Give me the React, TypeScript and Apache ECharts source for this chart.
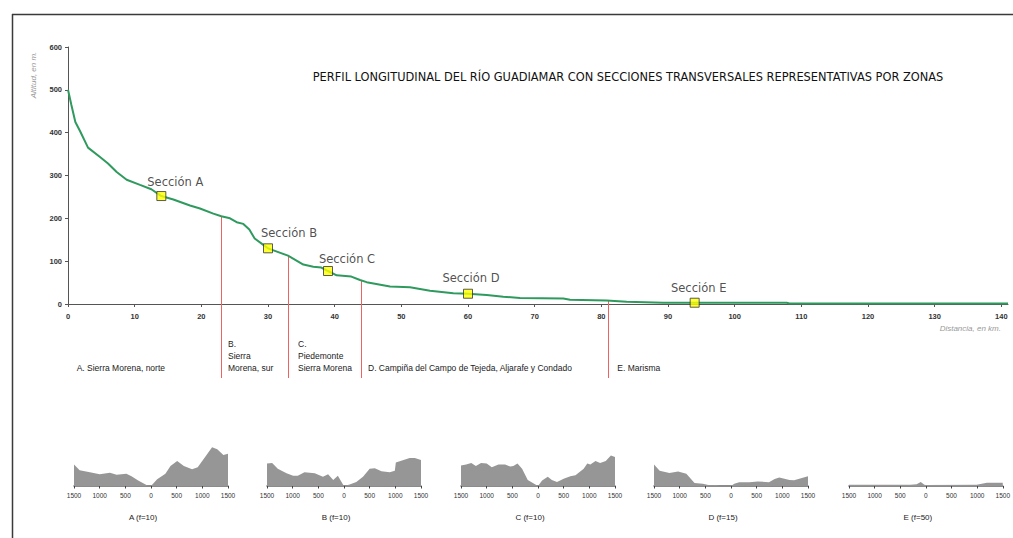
import React, { useEffect, useRef } from "react";
import * as echarts from "echarts";

// Longitudinal profile of the river: distance (km) and altitude (m)
const profileKm = [
  0, 0.5, 1.1, 1.8, 3, 4.8, 6, 7.3, 8.8, 10.8, 12.5, 14, 15.8, 18.3, 19.8, 21.8,
  23, 24.3, 25.3, 26.3, 27.2, 28, 29.3, 30, 33, 35.3, 36.8, 38, 39, 40.3, 42.5,
  43.8, 44.8, 48.3, 51.3, 54.3, 57.8, 60, 62.8, 65.3, 67.8, 74.3, 75.3, 80.8,
  83.8, 89.3, 90.3, 94, 107.8, 108.2, 141,
];
const profileAlt = [
  500, 465, 425, 404, 365, 343, 328, 308, 290, 278, 268, 252, 244, 230, 223, 211,
  205, 200, 191, 187, 174, 153, 138, 130, 113, 92, 87, 85, 77, 67, 64,
  56, 51, 41, 39, 31, 25, 24, 21, 17, 14, 13, 10, 8,
  5, 3, 3, 3, 3, 1, 1,
];

// Representative cross sections along the profile
const sectionNames = ["Sección A", "Sección B", "Sección C", "Sección D", "Sección E"];
const sectionKm = [14, 30, 39, 60, 94];
const sectionAlt = [252, 130, 77, 24, 3];

// Zone boundaries (km) and the profile altitude where each one starts
const boundaryKm = [23, 33, 44, 81];
const boundaryAlt = [205, 114, 56, 9];

// Zone names and the distance where each name starts
const zoneNames = [
  "A. Sierra Morena, norte",
  "B.\nSierra\nMorena, sur",
  "C.\nPiedemonte\nSierra Morena",
  "D. Campiña del Campo de Tejeda, Aljarafe y Condado",
  "E. Marisma",
];
const zoneKm = [1.3, 24, 34.5, 45, 82.4];

// Axis ticks
const xTicks = [0, 10, 20, 30, 40, 50, 60, 70, 80, 90, 100, 110, 120, 130, 140];
const yTicks = [0, 100, 200, 300, 400, 500, 600];

// Cross sections: offset from the channel (m) and relative height (m)
const crossTitles = ["A (f=10)", "B (f=10)", "C (f=10)", "D (f=15)", "E (f=50)"];
const crossExaggeration = [10, 10, 10, 15, 50];
const crossA: [number, number][] = [
  [-1500, 42], [-1390, 31], [-1190, 27], [-1000, 23], [-800, 26], [-670, 22],
  [-480, 24], [-380, 19], [-250, 11], [-70, 1], [0, 0], [120, 13], [280, 24],
  [380, 39], [510, 49], [640, 39], [800, 33], [910, 37], [1040, 55], [1190, 76],
  [1290, 72], [1410, 61], [1500, 63],
];
const crossB: [number, number][] = [
  [-1500, 44], [-1400, 45], [-1290, 34], [-1120, 25], [-990, 20], [-900, 20],
  [-770, 27], [-570, 25], [-410, 18], [-310, 23], [-210, 12], [-120, 20],
  [-20, 3], [0, 0], [110, 3], [240, 8], [370, 18], [500, 34], [600, 35],
  [730, 29], [890, 27], [990, 30], [1010, 46], [1280, 55], [1380, 55], [1500, 51],
];
const crossC: [number, number][] = [
  [-1500, 40], [-1400, 42], [-1300, 45], [-1210, 39], [-1110, 45], [-1000, 44],
  [-900, 37], [-770, 42], [-640, 42], [-540, 38], [-480, 39], [-400, 44],
  [-310, 34], [-200, 12], [-50, 3], [0, 0], [80, 11], [190, 18], [270, 12],
  [370, 8], [500, 14], [630, 19], [730, 21], [890, 34], [960, 44], [1020, 42],
  [1120, 49], [1210, 45], [1320, 49], [1420, 60], [1500, 57],
];
const crossD: [number, number][] = [
  [-1500, 28], [-1390, 20], [-1200, 17], [-1030, 19], [-870, 16], [-710, 4],
  [-550, 3], [-420, 1], [-290, 1.3], [-230, 0], [0, 0], [65, 3], [160, 5],
  [360, 5], [520, 6], [740, 5], [850, 9], [940, 11], [1140, 8], [1230, 7.4],
  [1330, 9.5], [1500, 12.6],
];
const crossE: [number, number][] = [
  [-1500, 0.5], [-300, 0.5], [-180, 0.7], [-100, 1.6], [-30, 0.5], [0, 0.4],
  [990, 0.5], [1090, 0.9], [1190, 1.3], [1500, 1.3],
];
const crossData = [crossA, crossB, crossC, crossD, crossE];

// Layout of the small cross-section panels
const crossLeft = [74, 267, 461, 654, 849];
const crossWidth = 154;
const crossTop = 435;
const crossHeight = 51;

const labelOffsets: [number, number][] = [
  [14, 1.5], [21, 0.5], [19, 3.5], [3, 0.5], [4, 1.5],
];

export default function App() {
  const ref = useRef<HTMLDivElement>(null);

  useEffect(() => {
    if (!ref.current) return;
    const chart = echarts.init(ref.current, null, { renderer: "svg" });

    const tickFont = {
      fontFamily: "Liberation Sans",
      fontSize: 7.5,
      fontWeight: "bold" as const,
      color: "#333",
    };

    const grids: any[] = [{ left: 68, top: 47, width: 940, height: 257 }];
    const xAxes: any[] = [
      {
        type: "value",
        gridIndex: 0,
        min: 0,
        max: 141,
        interval: 10,
        axisLine: { lineStyle: { color: "#555", width: 1 } },
        axisTick: { length: 3, customValues: xTicks, lineStyle: { color: "#555" } },
        axisLabel: { ...tickFont, margin: 8, customValues: xTicks },
        splitLine: { show: false },
      },
    ];
    const yAxes: any[] = [
      {
        type: "value",
        gridIndex: 0,
        min: 0,
        max: 600,
        interval: 100,
        axisLine: { show: true, lineStyle: { color: "#555", width: 1 } },
        axisTick: { show: true, length: 3, customValues: yTicks, lineStyle: { color: "#555" } },
        axisLabel: { ...tickFont, margin: 6, customValues: yTicks },
        splitLine: { show: false },
      },
    ];

    const series: any[] = [
      {
        type: "line",
        xAxisIndex: 0,
        yAxisIndex: 0,
        data: profileKm.map((k, i) => [k, profileAlt[i]]),
        showSymbol: false,
        lineStyle: { color: "#2f9a5e", width: 2 },
        z: 3,
      },
      {
        type: "scatter",
        xAxisIndex: 0,
        yAxisIndex: 0,
        symbol: "rect",
        symbolSize: 9,
        itemStyle: { color: "#ffff00", borderColor: "#333", borderWidth: 1 },
        data: sectionKm.map((k, i) => ({
          value: [k, sectionAlt[i]],
          label: {
            show: true,
            position: "top",
            distance: 5,
            offset: labelOffsets[i],
            formatter: sectionNames[i],
            fontFamily: "DejaVu Sans",
            fontSize: 11.5,
            color: "#222",
          },
        })),
        z: 4,
      },
      {
        // zone boundaries, dropped from the profile to below the axis
        type: "custom",
        xAxisIndex: 0,
        yAxisIndex: 0,
        data: boundaryKm.map((k, i) => [k, boundaryAlt[i]]),
        renderItem: (_params: any, api: any) => {
          const top = api.coord([api.value(0), api.value(1)]);
          const base = api.coord([api.value(0), 0]);
          const x = Math.round(top[0]) + 0.5;
          return {
            type: "line",
            shape: { x1: x, y1: top[1], x2: x, y2: base[1] + 74 },
            style: { stroke: "#f06262", lineWidth: 1 },
          };
        },
        z: 2,
      },
      {
        // zone names under the axis
        type: "custom",
        xAxisIndex: 0,
        yAxisIndex: 0,
        data: zoneKm.map((k) => [k, 0]),
        renderItem: (params: any, api: any) => {
          const p = api.coord([api.value(0), 0]);
          return {
            type: "text",
            x: p[0],
            y: p[1] + 70,
            style: {
              text: zoneNames[params.dataIndex],
              fill: "#222",
              fontFamily: "Liberation Sans",
              fontSize: 8.5,
              align: "left",
              verticalAlign: "bottom",
              lineHeight: 12,
            },
          };
        },
        z: 2,
      },
    ];

    crossData.forEach((data, i) => {
      const g = i + 1;
      grids.push({ left: crossLeft[i], top: crossTop, width: crossWidth, height: crossHeight });
      xAxes.push({
        type: "value",
        gridIndex: g,
        min: -1500,
        max: 1500,
        interval: 500,
        axisLine: { lineStyle: { color: "#666", width: 1.5 } },
        axisTick: { length: 2.5, lineStyle: { color: "#444" } },
        axisLabel: {
          fontFamily: "Liberation Sans",
          fontSize: 6.5,
          color: "#333",
          margin: 6,
          formatter: (v: number) => String(Math.abs(v)),
        },
        splitLine: { show: false },
        name: crossTitles[i],
        nameLocation: "middle",
        nameGap: 27,
        nameTextStyle: {
          fontFamily: "Liberation Sans",
          fontSize: 8,
          color: "#222",
          padding: [0, 16, 0, 0],
        },
      });
      yAxes.push({
        type: "value",
        gridIndex: g,
        min: 0,
        max: 1000 / crossExaggeration[i],
        show: false,
        splitLine: { show: false },
      });
      series.push({
        type: "line",
        xAxisIndex: g,
        yAxisIndex: g,
        data,
        showSymbol: false,
        lineStyle: { width: 0 },
        areaStyle: { color: "#969696", opacity: 1 },
        z: 1,
      });
    });

    chart.setOption({
      animation: false,
      backgroundColor: "#ffffff",
      grid: grids,
      xAxis: xAxes,
      yAxis: yAxes,
      series,
      graphic: [
        {
          type: "line",
          shape: { x1: 12, y1: 14.5, x2: 1013, y2: 14.5 },
          style: { stroke: "#3a3a3a", lineWidth: 1.5 },
        },
        {
          type: "line",
          shape: { x1: 12.5, y1: 14, x2: 12.5, y2: 538 },
          style: { stroke: "#3a3a3a", lineWidth: 1.5 },
        },
        {
          type: "text",
          x: 628,
          y: 77,
          style: {
            text: "PERFIL LONGITUDINAL DEL RÍO GUADIAMAR CON SECCIONES TRANSVERSALES REPRESENTATIVAS POR ZONAS",
            fontFamily: "DejaVu Sans",
            fontSize: 11.4,
            fill: "#111",
            align: "center",
            verticalAlign: "middle",
          },
        },
        {
          type: "text",
          x: 33,
          y: 75,
          rotation: Math.PI / 2,
          style: {
            text: "Altitud, en m.",
            fontFamily: "Liberation Sans",
            fontStyle: "italic",
            fontSize: 8,
            fill: "#999",
            align: "center",
            verticalAlign: "middle",
          },
        },
        {
          type: "text",
          x: 1001,
          y: 328,
          style: {
            text: "Distancia, en km.",
            fontFamily: "Liberation Sans",
            fontStyle: "italic",
            fontSize: 8,
            fill: "#999",
            align: "right",
            verticalAlign: "middle",
          },
        },
      ],
    });

    return () => chart.dispose();
  }, []);

  return (
    <div
      ref={ref}
      style={{ position: "absolute", left: 0, top: 0, width: 1013, height: 538 }}
    />
  );
}
